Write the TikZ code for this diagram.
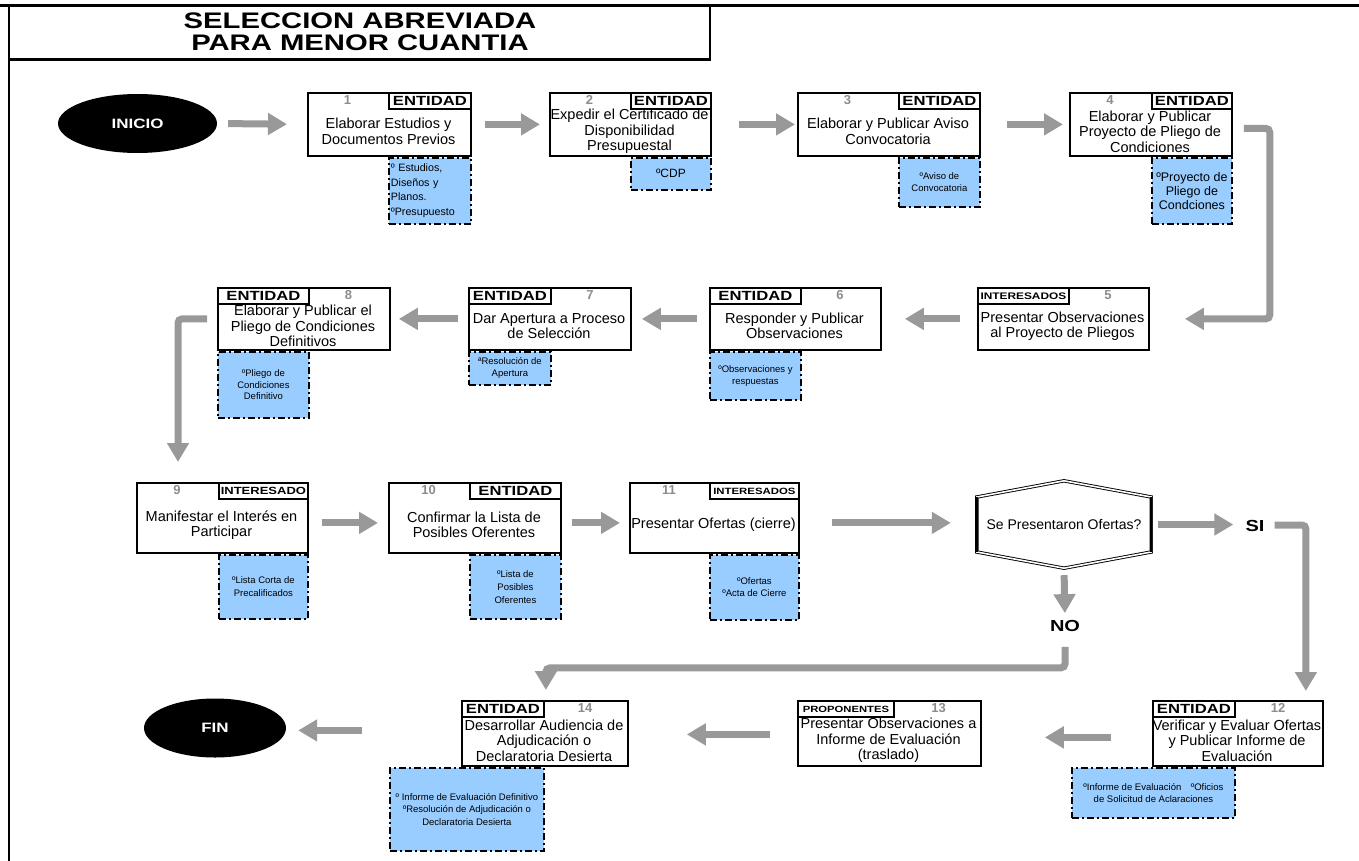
\documentclass[tikz,border=0pt]{standalone}
\usepackage{fontspec}
\setmainfont{Liberation Sans}
\newfontfamily\wbf[FakeStretch=1.25]{Liberation Sans}
\newfontfamily\wbft[FakeStretch=1.3]{Liberation Sans}
\usetikzlibrary{arrows.meta,shapes.geometric}
\definecolor{agray}{RGB}{153,153,153}
\definecolor{ngray}{RGB}{140,140,140}
\definecolor{oblue}{RGB}{153,204,255}
\newcommand{\fs}[2]{\fontsize{#1}{#2}\selectfont}
\tikzset{
 pbox/.style={draw, line width=1.8pt, inner sep=0pt, anchor=north west},
 tagl/.style={draw, line width=1.8pt, inner sep=0pt, minimum height=16pt, font={\wbf\bfseries\fs{13.3}{14}}},
 numl/.style={text=ngray, font={\bfseries\fs{13}{14}}, inner sep=0pt},
 body/.style={align=center, inner sep=0pt, font={\fs{14.5}{15.5}}},
 outb/.style={draw, fill=oblue, line width=1.8pt, dash pattern=on 7pt off 3pt on 2pt off 3pt, inner sep=0pt, align=center},
 garrow/.style={draw=agray, line width=7pt, -{Triangle[width=21pt,length=19pt]}, rounded corners=4pt},
 term/.style={ellipse, fill=black, text=white, inner sep=0pt, font={\wbf\bfseries\fs{13.6}{15}}},
 yn/.style={inner sep=0pt, font={\wbf\bfseries\fs{16}{17}}},
 ttl/.style={anchor=base, inner sep=0pt, font={\wbft\bfseries\fs{22.5}{23}}},
}
\begin{document}
\begin{tikzpicture}[x=1pt,y=-1pt]
\useasboundingbox (0,0) rectangle (1359,861);
% frame and title
\draw[line width=3pt] (0,6) -- (1359,6);
\draw[line width=2.5pt] (9,5) -- (9,861);
\draw[line width=3pt] (9,60) -- (711,60);
\draw[line width=2pt] (710,6) -- (710,61);
\node[ttl] (t1) at (360,28.5) {SELECCION ABREVIADA};
\node[ttl] (t2) at (360,51) {PARA MENOR CUANTIA};

% terminals
\node[term, minimum width=159pt, minimum height=59pt] (inicio) at (137.5,123.5) {INICIO};
\node[term, minimum width=142pt, minimum height=59pt] (fin) at (215,728) {FIN};

% ---------- Row 1
\node[pbox, minimum width=163pt, minimum height=63pt] (b1) at (307,92) {};
\node[tagl, minimum width=82pt, anchor=north east] (b1g) at (b1.north east) {ENTIDAD};
\node[numl] (b1n) at (347.5,100) {1};
\node[body] (b1t) at (388.5,131.5) {Elaborar Estudios y\\Documentos Previos};
\node[outb, minimum width=82pt, minimum height=66pt, anchor=north east, text width=78pt, align=left, font={\fs{10.7}{14.5}}] (o1) at (b1.south east) {º Estudios,\\Diseños y\\Planos.\\ºPresupuesto};

\node[pbox, minimum width=161pt, minimum height=63pt] (b2) at (549,92) {};
\node[tagl, minimum width=80pt, anchor=north east] (b2g) at (b2.north east) {ENTIDAD};
\node[numl] (b2n) at (589.5,100) {2};
\node[body] (b2t) at (629.5,131.5) {Expedir el Certificado de\\Disponibilidad\\Presupuestal};
\node[outb, minimum width=80pt, minimum height=32pt, anchor=north east, font={\fs{12}{14}}] (o2) at (b2.south east) {ºCDP};

\node[pbox, minimum width=182pt, minimum height=63pt] (b3) at (797,92) {};
\node[tagl, minimum width=81pt, anchor=north east] (b3g) at (b3.north east) {ENTIDAD};
\node[numl] (b3n) at (847.5,100) {3};
\node[body] (b3t) at (888,131.5) {Elaborar y Publicar Aviso\\Convocatoria};
\node[outb, minimum width=81pt, minimum height=49pt, anchor=north east, font={\fs{9.5}{12}}] (o3) at (b3.south east) {ºAviso de\\Convocatoria};

\node[pbox, minimum width=162pt, minimum height=63pt] (b4) at (1069,92) {};
\node[tagl, minimum width=80pt, anchor=north east] (b4g) at (b4.north east) {ENTIDAD};
\node[numl] (b4n) at (1110,100) {4};
\node[body] (b4t) at (1150,131.5) {Elaborar y Publicar\\Proyecto de Pliego de\\Condiciones};
\node[outb, minimum width=80pt, minimum height=66pt, anchor=north east, font={\fs{12.5}{14}}] (o4) at (b4.south east) {ºProyecto de\\Pliego de\\Condciones};

% ---------- Row 2
\node[pbox, minimum width=171pt, minimum height=62pt] (b5) at (977,287) {};
\node[tagl, minimum width=91pt, anchor=north west, font={\wbf\bfseries\fs{9.5}{11}}] (b5g) at (b5.north west) {INTERESADOS};
\node[numl] (b5n) at (1108,295) {5};
\node[body] (b5t) at (1062.5,326) {Presentar Observaciones\\al Proyecto de Pliegos};

\node[pbox, minimum width=171pt, minimum height=62pt] (b6) at (709,287) {};
\node[tagl, minimum width=91pt, anchor=north west] (b6g) at (b6.north west) {ENTIDAD};
\node[numl] (b6n) at (840,295) {6};
\node[body] (b6t) at (794.5,326) {Responder y Publicar\\Observaciones};
\node[outb, minimum width=91pt, minimum height=48pt, anchor=north west, font={\fs{9.5}{12}}] (o6) at (b6.south west) {ºObservaciones y\\respuestas};

\node[pbox, minimum width=162pt, minimum height=62pt] (b7) at (468,287) {};
\node[tagl, minimum width=82pt, anchor=north west] (b7g) at (b7.north west) {ENTIDAD};
\node[numl] (b7n) at (590,295) {7};
\node[body] (b7t) at (549,326) {Dar Apertura a Proceso\\de Selección};
\node[outb, minimum width=82pt, minimum height=33pt, anchor=north west, font={\fs{9.5}{11.5}}] (o7) at (b7.south west) {ªResolución de\\Apertura};

\node[pbox, minimum width=172pt, minimum height=62pt] (b8) at (217,287) {};
\node[tagl, minimum width=91pt, anchor=north west] (b8g) at (b8.north west) {ENTIDAD};
\node[numl] (b8n) at (348.5,295) {8};
\node[body] (b8t) at (303,326) {Elaborar y Publicar el\\Pliego de Condiciones\\Definitivos};
\node[outb, minimum width=91pt, minimum height=66pt, anchor=north west, font={\fs{9.5}{11.7}}] (o8) at (b8.south west) {ºPliego de\\Condiciones\\Definitivo};

% ---------- Row 3
\node[pbox, minimum width=171pt, minimum height=70pt] (b9) at (136,482) {};
\node[tagl, minimum width=89pt, anchor=north east, font={\wbf\bfseries\fs{10.4}{12}}] (b9g) at (b9.north east) {INTERESADO};
\node[numl] (b9n) at (177,490) {9};
\node[body] (b9t) at (221.5,525) {Manifestar el Interés en\\Participar};
\node[outb, minimum width=89pt, minimum height=64pt, anchor=north east, font={\fs{9.5}{13}}] (o9) at (b9.south east) {ºLista Corta de\\Precalificados};

\node[pbox, minimum width=172pt, minimum height=70pt] (b10) at (388,482) {};
\node[tagl, minimum width=91pt, anchor=north east] (b10g) at (b10.north east) {ENTIDAD};
\node[numl] (b10n) at (428.5,490) {10};
\node[body] (b10t) at (474,525) {Confirmar la Lista de\\Posibles Oferentes};
\node[outb, minimum width=91pt, minimum height=64pt, anchor=north east, font={\fs{9.5}{13}}] (o10) at (b10.south east) {ºLista de\\Posibles\\Oferentes};

\node[pbox, minimum width=169pt, minimum height=70pt] (b11) at (629,482) {};
\node[tagl, minimum width=89pt, anchor=north east, font={\wbf\bfseries\fs{9.1}{11}}] (b11g) at (b11.north east) {INTERESADOS};
\node[numl] (b11n) at (669,490) {11};
\node[body] (b11t) at (713.5,525) {Presentar Ofertas (cierre)};
\node[outb, minimum width=89pt, minimum height=65pt, anchor=north east, font={\fs{9.5}{11.5}}] (o11) at (b11.south east) {ºOfertas\\ºActa de Cierre};

% decision
\node[minimum width=174pt, minimum height=87pt, inner sep=0pt, font={\fs{14}{15}}] (hex) at (1064,524.5) {Se Presentaron Ofertas?};
\draw[line width=0.9pt, double=white, double distance=1.6pt]
  ([yshift=27.5pt]hex.west) -- (hex.north) -- ([yshift=27.5pt]hex.east) -- ([yshift=-27.5pt]hex.east)
  -- (hex.south) -- ([yshift=-27.5pt]hex.west) -- cycle;
\draw[line width=2.5pt] ([yshift=27.5pt]hex.west) -- ([yshift=-27.5pt]hex.west);
\draw[line width=2.5pt] ([yshift=27.5pt]hex.east) -- ([yshift=-27.5pt]hex.east);
\node[yn] (si) at (1255,526) {SI};
\node[yn] (no) at (1065,626) {NO};

% ---------- Row 4
\node[pbox, minimum width=166pt, minimum height=65pt] (b14) at (461,700) {};
\node[tagl, minimum width=82pt, anchor=north west] (b14g) at (b14.north west) {ENTIDAD};
\node[numl] (b14n) at (585,708) {14};
\node[body] (b14t) at (544,740.5) {Desarrollar Audiencia de\\Adjudicación o\\Declaratoria Desierta};
\node[outb, minimum width=154pt, minimum height=83pt, anchor=north east, font={\fs{9.5}{12.5}}] (o14) at (b14g.east |- b14.south) {º Informe de Evaluación Definitivo\\ºResolución de Adjudicación o\\Declaratoria Desierta};

\node[pbox, minimum width=183pt, minimum height=65pt] (b13) at (797,700) {};
\node[tagl, minimum width=96pt, anchor=north west, font={\wbf\bfseries\fs{9}{11}}] (b13g) at (b13.north west) {PROPONENTES};
\node[numl] (b13n) at (938.5,708) {13};
\node[body] (b13t) at (888.5,740.5) {Presentar Observaciones a\\Informe de Evaluación\\(traslado)};

\node[pbox, minimum width=170pt, minimum height=65pt] (b12) at (1152,700) {};
\node[tagl, minimum width=82pt, anchor=north west] (b12g) at (b12.north west) {ENTIDAD};
\node[numl] (b12n) at (1278,708) {12};
\node[body] (b12t) at (1237,740.5) {Verificar y Evaluar Ofertas\\y Publicar Informe de\\Evaluación};
\node[outb, minimum width=163pt, minimum height=50pt, anchor=north east, font={\fs{9.5}{12}}] (o12) at (b12g.east |- b12.south) {ºInforme de Evaluación\quad ºOficios\\de Solicitud de Aclaraciones};

% ---------- connectors
\draw[garrow, shorten <=11pt, shorten >=20pt] (inicio.east) -- (b1.west);
\draw[garrow, shorten <=13pt, shorten >=9pt] (b1.east) -- (b2.west);
\draw[garrow, shorten <=27pt, shorten >=2pt] (b2.east) -- (b3.west);
\draw[garrow, shorten <=26pt, shorten >=6pt] (b3.east) -- (b4.west);
\draw[garrow] ([xshift=11pt,yshift=-4pt]b4.east) -- ++(26,0) |- ([xshift=35pt]b5.east);
\draw[garrow, shorten <=17pt, shorten >=23pt] (b5.west) -- (b6.east);
\draw[garrow, shorten <=12pt, shorten >=10pt] (b6.west) -- (b7.east);
\draw[garrow, shorten <=10pt, shorten >=8pt] (b7.west) -- (b8.east);
\draw[garrow] ([xshift=-10pt]b8.west) -| ([xshift=42pt,yshift=20pt]b9.north west);
\draw[garrow, shorten <=13pt, shorten >=10pt] ([yshift=-5pt]b9.east) -- ([yshift=-5pt]b10.west);
\draw[garrow, shorten <=10pt, shorten >=9pt] ([yshift=-5pt]b10.east) -- ([yshift=-5pt]b11.west);
\draw[garrow, shorten <=32pt, shorten >=26pt] ([yshift=-5pt]b11.east) -- ([yshift=-5pt]b11.east -| hex.west);
\draw[garrow, shorten <=7pt, shorten >=12pt] (hex.east) -- (hex.east -| si.west);
\draw[garrow] ([xshift=10pt,yshift=1pt]si.east) -| ([xshift=68pt,yshift=9pt]b12.north);
\draw[garrow, shorten <=7pt, shorten >=7pt] (hex.south) -- (no.north);
\draw[garrow] ([yshift=-15pt]no.south) -- ++(0,21) -| ([xshift=1pt,yshift=10pt]b14.north);
\draw[garrow, shorten <=41pt, shorten >=63pt] ([yshift=-4pt]b12.west) -- ([yshift=-4pt]b13.east);
\draw[garrow, shorten <=27pt, shorten >=58pt] ([yshift=-1pt]b13.west) -- ([yshift=-1pt]b14.west -| b14.east);
\draw[garrow, shorten <=99pt, shorten >=12pt] ([yshift=3pt]b14.west) -- ([yshift=3pt]b14.west -| fin.east);
\end{tikzpicture}
\end{document}
